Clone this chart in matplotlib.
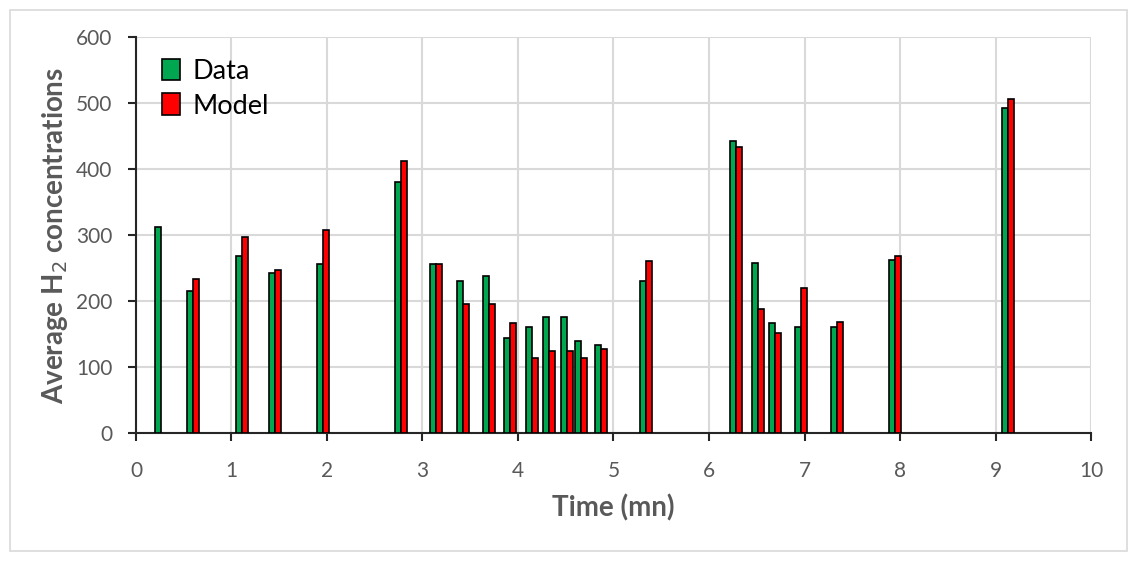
import matplotlib.pyplot as plt
import numpy as np
from matplotlib.patches import Rectangle

# Times (mn) where each Data/Model pair meets, and bar heights
times = [0.26, 0.60, 1.11, 1.455, 1.96, 2.78, 3.14, 3.42, 3.70, 3.92,
         4.15, 4.32, 4.51, 4.66, 4.87, 5.34, 6.28, 6.51, 6.69, 6.96,
         7.34, 7.95, 9.13]
data_vals = [312, 215, 268, 242, 256, 381, 256, 231, 238, 144,
             160, 176, 176, 140, 134, 230, 443, 257, 167, 160,
             160, 262, 493]
model_vals = [np.nan, 234, 297, 247, 307, 412, 256, 195, 195, 167,
              114, 124, 124, 114, 128, 260, 433, 188, 152, 220,
              168, 268, 506]

GREEN = '#00a650'
RED = '#ff0000'
GRAY = '#595959'
bar_w = 0.063

plt.rcParams['font.family'] = ['Lato', 'DejaVu Sans']

fig = plt.figure(figsize=(11.36, 5.61), dpi=100)
ax = fig.add_axes([0.1197, 0.2282, 0.8407, 0.7058])

t = np.array(times)
# green sits just left of each pair point, red just right
ax.bar(t - bar_w, data_vals, width=bar_w, align='edge', color=GREEN,
       edgecolor='black', linewidth=1.2, label='Data', zorder=3)
ax.bar(t, model_vals, width=bar_w, align='edge', color=RED,
       edgecolor='black', linewidth=1.2, label='Model', zorder=3)

ax.set_xlim(0, 10)
ax.set_ylim(0, 600)
ax.set_xticks(np.arange(0, 11, 1))
ax.set_yticks(np.arange(0, 601, 100))
ax.grid(True, color='#d9d9d9', linewidth=1.5, zorder=0)
ax.set_axisbelow(True)

for s in ['top', 'right']:
    ax.spines[s].set_visible(False)
for s in ['left', 'bottom']:
    ax.spines[s].set_color('#262626')
    ax.spines[s].set_linewidth(1.5)
ax.tick_params(axis='both', direction='out', length=6, width=1.5,
               color='#262626', labelcolor=GRAY, labelsize=15)
ax.tick_params(axis='y', pad=11)
ax.tick_params(axis='x', pad=14)

ax.set_xlabel('Time (mn)', fontsize=20, fontweight='bold', color=GRAY, labelpad=10)
ax.set_ylabel('Average H$_2$ concentrations', fontsize=20, fontweight='bold',
              color=GRAY, labelpad=4)

leg = ax.legend(loc='upper left', bbox_to_anchor=(0.027, 0.945), frameon=False,
                fontsize=19.5, handlelength=0.67, handleheight=0.85,
                handletextpad=0.45, labelspacing=0.35, borderpad=0,
                borderaxespad=0)

fig.patches.append(Rectangle((10 / 1136, 10 / 561), 1117 / 1136, 541 / 561,
                             transform=fig.transFigure, fill=False,
                             edgecolor='#d9d9d9', linewidth=1.2))

fig.savefig('out.png', dpi=100, facecolor='white')
